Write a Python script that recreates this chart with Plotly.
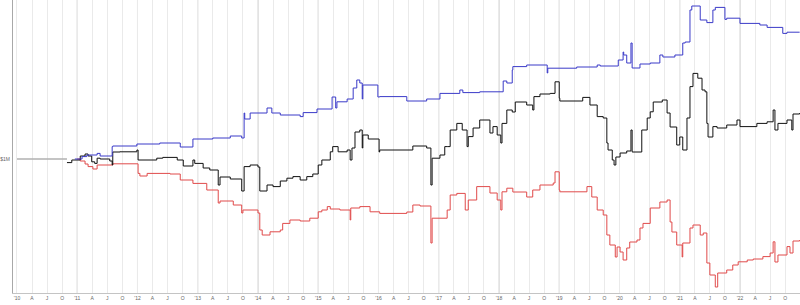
import plotly.graph_objects as go

# ---- data (portfolio value in $K; x in decimal years) ----
base_dates = [2010.00, 2010.83]
base_vals = [1000, 1000]

blue_dates = [2010.96, 2011.08, 2011.16, 2011.33, 2011.38, 2011.58, 2011.59, 2011.99, 2012.37, 2012.71,
              2012.92, 2013.25, 2013.54, 2013.73, 2013.77, 2013.78, 2013.87, 2014.15, 2014.23, 2014.37,
              2014.70, 2014.75, 2014.98, 2015.23, 2015.29, 2015.31, 2015.48, 2015.58, 2015.64, 2015.69,
              2015.73, 2015.74, 2015.99, 2016.02, 2016.47, 2016.80, 2017.02, 2017.35, 2017.40, 2017.68,
              2018.07, 2018.13, 2018.22, 2018.23, 2018.46, 2018.80, 2018.81, 2019.29, 2019.63, 2019.68,
              2019.98, 2020.06, 2020.07, 2020.12, 2020.19, 2020.21, 2020.34, 2020.51, 2020.67, 2020.72,
              2020.92, 2021.05, 2021.09, 2021.17, 2021.20, 2021.34, 2021.45, 2021.55, 2021.59, 2021.75,
              2021.78, 2022.00, 2022.33, 2022.45, 2022.71, 2022.78, 2022.99]
blue_vals = [1000, 1012, 1020, 1028, 1015, 1062, 1065, 1075, 1080, 1060,
             1100, 1105, 1115, 1105, 1230, 1200, 1230, 1255, 1230, 1220,
             1212, 1232, 1250, 1310, 1255, 1286, 1300, 1355, 1395, 1380,
             1300, 1370, 1310, 1312, 1290, 1300, 1328, 1345, 1332, 1336,
             1390, 1380, 1445, 1462, 1470, 1430, 1454, 1460, 1470, 1465,
             1495, 1535, 1520, 1480, 1580, 1455, 1475, 1480, 1520, 1510,
             1520, 1580, 1585, 1745, 1765, 1695, 1682, 1745, 1758, 1698,
             1704, 1678, 1670, 1658, 1628, 1634, 1634]

black_dates = [2010.83, 2010.91, 2011.05, 2011.13, 2011.18, 2011.24, 2011.29, 2011.33, 2011.38, 2011.54,
               2011.58, 2011.59, 2011.71, 2011.99, 2012.01, 2012.32, 2012.42, 2012.66, 2012.76, 2012.92,
               2012.95, 2013.09, 2013.20, 2013.34, 2013.37, 2013.54, 2013.73, 2013.77, 2013.87, 2014.00,
               2014.03, 2014.15, 2014.25, 2014.37, 2014.48, 2014.58, 2014.70, 2014.81, 2014.91, 2015.00,
               2015.06, 2015.20, 2015.24, 2015.33, 2015.48, 2015.53, 2015.56, 2015.61, 2015.69, 2015.73,
               2015.74, 2015.83, 2016.01, 2016.02, 2016.57, 2016.80, 2016.87, 2016.89, 2017.02, 2017.10,
               2017.14, 2017.19, 2017.30, 2017.39, 2017.47, 2017.49, 2017.57, 2017.68, 2017.85, 2017.90,
               2017.97, 2018.03, 2018.05, 2018.13, 2018.22, 2018.27, 2018.46, 2018.56, 2018.58, 2018.68,
               2018.85, 2018.93, 2019.00, 2019.01, 2019.39, 2019.51, 2019.63, 2019.73, 2019.79, 2019.81,
               2019.88, 2019.91, 2019.94, 2020.01, 2020.12, 2020.19, 2020.21, 2020.37, 2020.46, 2020.51,
               2020.56, 2020.71, 2020.79, 2020.84, 2020.95, 2021.00, 2021.05, 2021.12, 2021.17, 2021.22,
               2021.30, 2021.37, 2021.42, 2021.45, 2021.47, 2021.55, 2021.62, 2021.78, 2021.95, 2022.00,
               2022.28, 2022.45, 2022.55, 2022.58, 2022.63, 2022.78, 2022.86, 2022.88, 2022.99]
black_vals = [982, 995, 1015, 1025, 1015, 986, 978, 1004, 1000, 990,
              970, 1035, 1036, 1045, 995, 1004, 1008, 995, 965, 995,
              978, 955, 945, 870, 910, 900, 840, 962, 970, 960,
              840, 870, 862, 890, 904, 912, 895, 912, 925, 970,
              995, 1036, 1062, 1036, 1045, 995, 1055, 1135, 1145, 1055,
              1120, 1100, 1035, 1045, 1065, 1055, 870, 1004, 1020, 1062,
              1062, 1145, 1178, 1145, 1062, 1112, 1155, 1195, 1130, 1162,
              1120, 1080, 1178, 1245, 1235, 1285, 1270, 1245, 1312, 1325,
              1328, 1386, 1304, 1290, 1308, 1270, 1212, 1205, 1080, 1045,
              995, 970, 1010, 1030, 1040, 1145, 1035, 1145, 1205, 1236,
              1285, 1295, 1230, 1160, 1070, 1110, 1045, 1205, 1362, 1428,
              1404, 1345, 1336, 1178, 1110, 1162, 1155, 1170, 1195, 1162,
              1178, 1186, 1245, 1145, 1178, 1195, 1145, 1225, 1230]

red_dates = [2011.00, 2011.05, 2011.13, 2011.18, 2011.26, 2011.33, 2011.59, 2012.01, 2012.04, 2012.16,
             2012.54, 2012.71, 2012.92, 2013.15, 2013.34, 2013.37, 2013.59, 2013.73, 2013.75, 2014.00,
             2014.03, 2014.07, 2014.20, 2014.37, 2014.41, 2014.53, 2014.70, 2014.86, 2015.00, 2015.06,
             2015.15, 2015.20, 2015.36, 2015.53, 2015.54, 2015.69, 2015.86, 2016.02, 2016.47, 2016.57,
             2016.69, 2016.87, 2016.89, 2017.14, 2017.19, 2017.30, 2017.44, 2017.49, 2017.63, 2017.85,
             2017.97, 2018.03, 2018.05, 2018.13, 2018.23, 2018.46, 2018.56, 2018.68, 2018.90, 2018.93,
             2019.00, 2019.01, 2019.46, 2019.54, 2019.63, 2019.73, 2019.79, 2019.84, 2019.93, 2019.96,
             2020.01, 2020.06, 2020.12, 2020.17, 2020.29, 2020.34, 2020.39, 2020.51, 2020.67, 2020.79,
             2020.84, 2020.87, 2020.95, 2021.04, 2021.05, 2021.17, 2021.22, 2021.34, 2021.39, 2021.45,
             2021.50, 2021.59, 2021.63, 2021.78, 2021.88, 2021.97, 2022.12, 2022.22, 2022.38, 2022.50,
             2022.55, 2022.58, 2022.63, 2022.78, 2022.83, 2022.88, 2022.99]
red_vals = [1000, 990, 975, 962, 950, 970, 976, 928, 915, 928,
            925, 895, 878, 845, 780, 790, 770, 730, 745, 730,
            645, 620, 636, 645, 678, 695, 690, 704, 736, 745,
            762, 750, 745, 695, 755, 762, 736, 728, 735, 770,
            765, 580, 704, 745, 820, 828, 745, 795, 862, 830,
            795, 745, 836, 854, 835, 810, 845, 870, 880, 936,
            845, 836, 862, 810, 745, 720, 620, 570, 510, 560,
            535, 495, 555, 585, 595, 655, 678, 755, 785, 795,
            685, 635, 570, 510, 580, 655, 670, 620, 630, 480,
            420, 360, 430, 445, 470, 486, 495, 500, 512, 530,
            586, 485, 520, 562, 530, 590, 595]

year_ticks = list(range(2011, 2023))
quarter_ticks = [y + q / 4 for y in range(2010, 2023) for q in range(4)]
quarter_text = [("'" + str(int(t))[2:]) if q == 0 else ["A", "J", "O"][q - 1]
                for t, q in zip(quarter_ticks, [i % 4 for i in range(len(quarter_ticks))])]
y_tickvals = [1000]
y_ticktext = ["$1M"]

fig = go.Figure()
fig.add_trace(go.Scatter(x=base_dates, y=base_vals, mode="lines",
                         line=dict(color="#b0b0b0", width=1.5), hoverinfo="skip"))
fig.add_trace(go.Scatter(x=red_dates, y=red_vals, mode="lines", line_shape="hv",
                         line=dict(color="#e04a4a", width=1)))
fig.add_trace(go.Scatter(x=black_dates, y=black_vals, mode="lines", line_shape="hv",
                         line=dict(color="#111111", width=1)))
fig.add_trace(go.Scatter(x=blue_dates, y=blue_vals, mode="lines", line_shape="hv",
                         line=dict(color="#3a3ac8", width=1)))

shapes = [dict(type="line", xref="x", yref="paper", x0=y, x1=y, y0=0, y1=1,
               line=dict(color="#c4c4c4", width=1), layer="below") for y in year_ticks]

fig.update_layout(
    width=800, height=305,
    margin=dict(l=13, r=0, t=0, b=12),
    paper_bgcolor="white", plot_bgcolor="white",
    showlegend=False,
    shapes=shapes,
    font=dict(family="Liberation Sans, Arial, sans-serif", size=5, color="#666666"),
    xaxis=dict(range=[2009.934, 2022.996], tickmode="array", tickvals=quarter_ticks,
               ticktext=quarter_text, showgrid=True, gridcolor="#eaeaea", gridwidth=1,
               zeroline=False, showline=True, linecolor="#c4c4c4", linewidth=1,
               ticks="", tickfont=dict(size=5, color="#666666")),
    yaxis=dict(range=[330, 1795], tickmode="array", tickvals=y_tickvals, ticktext=y_ticktext,
               showgrid=False, zeroline=False, showline=True, linecolor="#a8a8a8", linewidth=1,
               ticks="", ticklabelstandoff=1, tickfont=dict(size=5, color="#666666")),
)

fig.write_html("out.html")
